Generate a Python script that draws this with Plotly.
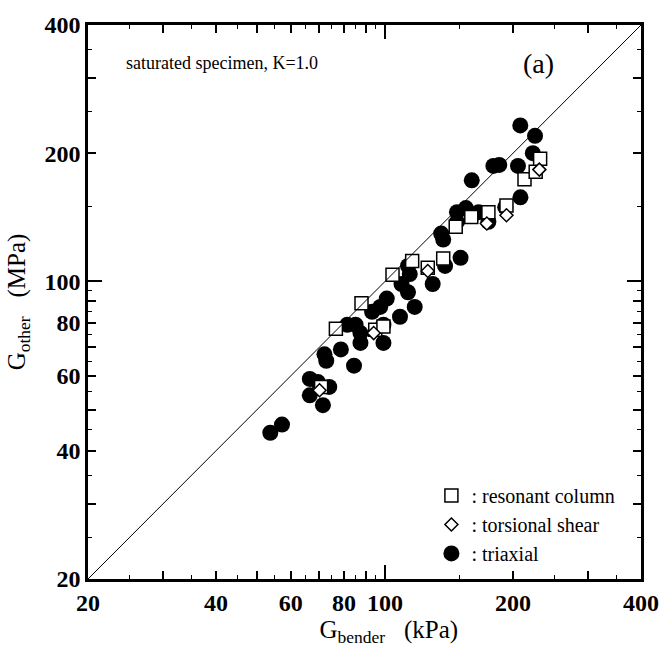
import math
import plotly.graph_objects as go

# ---- data (G_bender [kPa], G_other [MPa]) ----
tri_x = [53.7, 57.2, 66.5, 69.5, 73.9, 66.5, 71.4, 72.0, 72.7, 78.7, 84.5, 81.5, 85.2, 87.5, 87.5,
         99.1, 99.1, 93.2, 97.4, 100.9, 108.4, 117.4, 109.3, 113.2, 113.2, 114.3, 129.4, 138.4, 150.5,
         135.5, 137.0, 147.6, 175.0, 147.6, 154.9, 166.0, 191.7, 159.9, 208.2, 179.8, 185.6, 205.4,
         208.0, 225.3, 222.6]
tri_y = [44.1, 46.1, 59.0, 58.0, 56.5, 54.0, 51.2, 67.4, 65.1, 69.2, 63.4, 79.1, 79.1, 75.6, 71.7,
         79.1, 71.7, 84.8, 87.1, 91.1, 82.6, 87.1, 98.6, 94.3, 108.7, 104.0, 98.6, 108.7, 113.6,
         129.5, 125.4, 138.0, 138.0, 145.4, 148.6, 145.4, 149.4, 172.7, 157.5, 186.7, 187.7, 186.7,
         232.4, 219.7, 200.0]

rc_x = [70.7, 76.6, 88.0, 94.8, 99.1, 104.1, 115.8, 126.0, 137.0, 146.6, 159.5, 175.0, 193.0, 212.8, 226.1, 231.6]
rc_y = [56.5, 77.4, 88.8, 77.0, 78.3, 103.6, 111.6, 107.7, 113.1, 134.4, 141.7, 145.4, 150.7, 173.6, 180.8, 194.2]

ts_x = [70.1, 94.0, 126.0, 173.5, 193.0, 230.6]
ts_y = [55.5, 75.6, 105.8, 136.7, 143.0, 183.0]

axis_range = [20, 400]
major_ticks = [20, 30, 40, 50, 60, 70, 80, 90, 100, 200, 300, 400]
major_text = ["20", "", "40", "", "60", "", "80", "", "100", "200", "", "400"]
minor_ticks = [25, 35, 45, 55, 65, 75, 85, 95, 150, 250, 350]
long_ticks = [100]

FONT = "Liberation Serif, Times New Roman, serif"

fig = go.Figure()

# 1:1 line on overlay axes
fig.add_trace(go.Scatter(x=axis_range, y=axis_range, mode="lines",
                         line=dict(color="black", width=1), showlegend=False,
                         xaxis="x2", yaxis="y2", hoverinfo="skip"))

fig.add_trace(go.Scatter(x=tri_x, y=tri_y, mode="markers", name=": triaxial",
                         marker=dict(symbol="circle", size=16, color="black", line=dict(width=0)),
                         legendrank=3, legendgroup="c"))
fig.add_trace(go.Scatter(x=rc_x, y=rc_y, mode="markers", name=": resonant column",
                         marker=dict(symbol="square", size=13, color="white",
                                     line=dict(color="black", width=1.5)),
                         legendrank=1, legendgroup="a"))
fig.add_trace(go.Scatter(x=ts_x, y=ts_y, mode="markers", name=": torsional shear",
                         marker=dict(symbol="diamond", size=10, color="white",
                                     line=dict(color="black", width=1.5)),
                         legendrank=2, legendgroup="b"))

rng = [math.log10(axis_range[0]), math.log10(axis_range[1])]

common = dict(type="log", range=rng, showgrid=False, zeroline=False,
              ticks="inside", tickcolor="black", tickwidth=1.5)

NB = "\u00a0"
PAD = '<span style="color:rgba(0,0,0,0)">' + NB * 2 + "GG</span>"

fig.update_layout(
    width=671, height=648,
    margin=dict(l=88, r=21, t=14, b=69),
    paper_bgcolor="white", plot_bgcolor="white",
    font=dict(family=FONT, color="black"),
    xaxis=dict(**common, tickvals=major_ticks, ticktext=major_text, ticklen=8, tickangle=0,
               showline=True, linecolor="black", linewidth=2.5, mirror="ticks",
               tickfont=dict(family=FONT, size=24, color="black", weight="bold"),
               minor=dict(tickvals=minor_ticks, ticklen=4, ticks="inside",
                          tickcolor="black", tickwidth=1.2, showgrid=False),
               title=dict(text=PAD + "G<sub>bender</sub>" + NB * 3 + "(kPa)",
                          font=dict(family=FONT, size=25, color="#000000"), standoff=0)),
    yaxis=dict(**common, tickvals=major_ticks, ticktext=major_text, ticklen=8, tickangle=0,
               showline=True, linecolor="black", linewidth=2.5, mirror="ticks",
               tickfont=dict(family=FONT, size=24, color="black", weight="bold"),
               minor=dict(tickvals=minor_ticks, ticklen=4, ticks="inside",
                          tickcolor="black", tickwidth=1.2, showgrid=False),
               title=dict(text="G<sub>other</sub>" + NB * 3 + "(MPa)",
                          font=dict(family=FONT, size=25, color="#000000"), standoff=12)),
    xaxis2=dict(**common, overlaying="x", anchor="y2", side="bottom",
                tickvals=long_ticks, ticklen=14, showticklabels=False,
                showline=False, mirror="ticks"),
    yaxis2=dict(**common, overlaying="y", anchor="x2", side="left",
                tickvals=long_ticks, ticklen=14, showticklabels=False,
                showline=False, mirror="ticks"),
    legend=dict(x=0.621, y=0.186, xanchor="left", yanchor="top",
                bgcolor="rgba(0,0,0,0)", borderwidth=0,
                font=dict(family=FONT, size=20, color="black"),
                tracegroupgap=0, itemwidth=30),
    showlegend=True,
    annotations=[
        dict(text="saturated specimen, K=1.0", xref="paper", yref="paper",
             x=0.066, y=0.931, xanchor="left", yanchor="middle", showarrow=False,
             font=dict(family=FONT, size=18, color="black")),
        dict(text="(a)", xref="paper", yref="paper",
             x=0.815, y=0.931, xanchor="center", yanchor="middle", showarrow=False,
             font=dict(family=FONT, size=28, color="black")),
    ],
)

fig.write_html("out.html")
